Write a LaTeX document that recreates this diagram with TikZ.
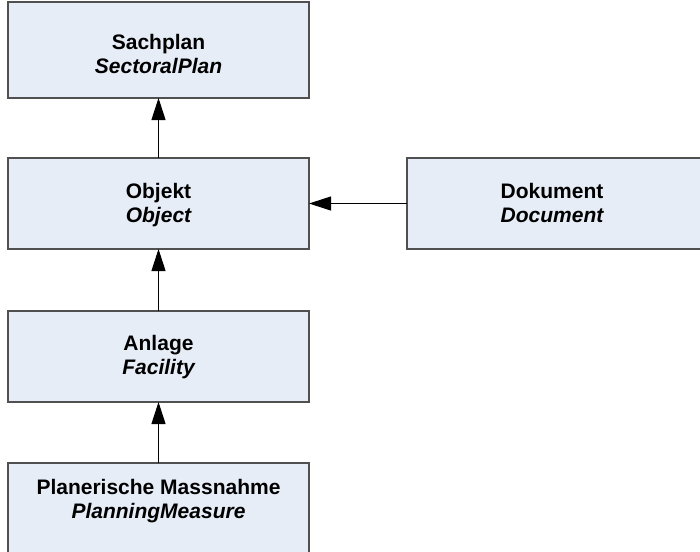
\documentclass[tikz,border=0pt]{standalone}
\usepackage{fontspec}
\setmainfont{Liberation Sans}
\usetikzlibrary{arrows.meta}
\definecolor{boxfill}{RGB}{231,237,247}
\definecolor{boxline}{RGB}{80,80,80}
\begin{document}
\begin{tikzpicture}[x=1pt,y=-1pt,
  box/.style={draw=boxline,fill=boxfill,line width=1.1pt,inner sep=0pt,outer sep=0pt},
  lab/.style={anchor=base,inner sep=0pt,font=\fontsize{21}{23.5}\selectfont\bfseries},
  ilab/.style={lab,font=\fontsize{21}{23.5}\selectfont\bfseries\itshape},
  conn/.style={draw=black,line width=1pt,-{Triangle[length=22pt,width=14pt]}}]
\useasboundingbox (0,0) rectangle (700,551);
\fill[white] (0,0) rectangle (700,551);
% boxes
\node[box,minimum width=301pt,minimum height=96pt] (sach) at (158.5,50) {};
\node[box,minimum width=301pt,minimum height=91pt] (obj) at (158.5,203.5) {};
\node[box,minimum width=303pt,minimum height=91pt] (dok) at (558.5,203.5) {};
\node[box,minimum width=301pt,minimum height=91pt] (anl) at (158.5,356.5) {};
\node[box,minimum width=301pt,minimum height=110pt] (plan) at (158.5,518) {};
% labels
\node[lab] (sachA) at (158.5,49.5) {Sachplan};
\node[ilab] (sachB) at (158.5,73) {SectoralPlan};
\node[lab] (objA) at (158.5,198) {Objekt};
\node[ilab] (objB) at (158.5,222) {Object};
\node[lab] (dokA) at (552,198) {Dokument};
\node[ilab] (dokB) at (552,222) {Document};
\node[lab] (anlA) at (158.5,350) {Anlage};
\node[ilab] (anlB) at (158.5,374) {Facility};
\node[lab] (planA) at (158.5,494) {Planerische Massnahme};
\node[ilab] (planB) at (158.5,518) {PlanningMeasure};
% connectors
\draw[conn] (obj.north) -- (sach.south);
\draw[conn] (anl.north) -- (obj.south);
\draw[conn] (plan.north) -- (anl.south);
\draw[conn] (dok.west) -- (obj.east);
\end{tikzpicture}
\end{document}
